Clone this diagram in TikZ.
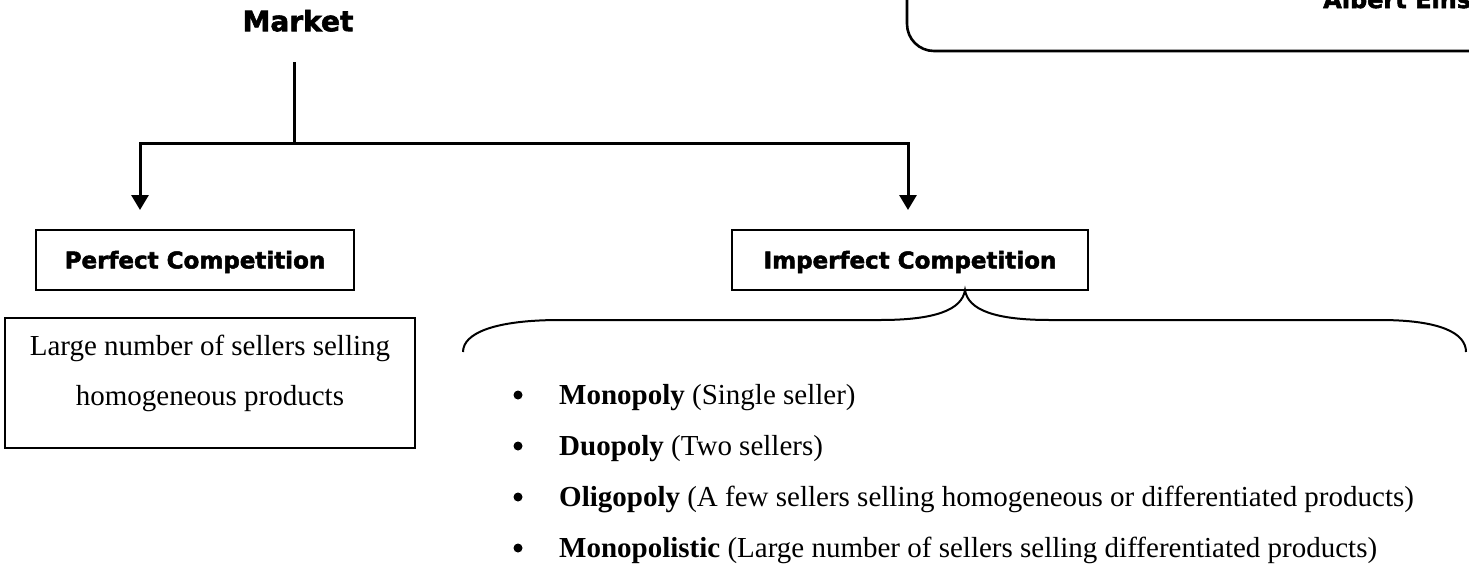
\documentclass[tikz,border=0pt]{standalone}
\usepackage{fontspec}
\setmainfont{Liberation Serif}
\newfontfamily\headfont{DejaVu Sans}[BoldFeatures={FakeBold=2.2}]
\usetikzlibrary{arrows.meta}
\begin{document}
\begin{tikzpicture}[x=1pt,y=-1pt,
  heading/.style={font=\headfont\bfseries\fontsize{23}{27}\selectfont,
                  text height=16.8pt, text depth=0pt},
  headbox/.style={heading, draw, line width=2.6pt, minimum height=60pt, inner sep=0pt},
  link/.style={line width=3pt},
  arrowlink/.style={link, -{Triangle[width=17pt,length=15pt]}},
  brace/.style={line width=2pt},
  item/.style={anchor=base west, inner sep=0pt, font=\fontsize{29}{35}\selectfont},
  dot/.style={circle, fill, inner sep=0pt, minimum size=9pt},
]
\useasboundingbox (0,0) rectangle (1469,571);
\clip (0,0) rectangle (1469,571);

% quotation frame running off the top right
\draw[line width=2.6pt, rounded corners=27pt] (907,-30) -- (907,51) -- (1520,51);
\node[anchor=base west, inner sep=0pt,
      font=\headfont\bfseries\fontsize{24}{28}\selectfont] (quote) at (1323,8) {Albert Eins};

% title and the split into two kinds of market
\node[font=\headfont\bfseries\fontsize{28}{32}\selectfont, text height=20.4pt, text depth=0pt,
      inner sep=0pt] (market) at (298,21) {Market};
\coordinate (stem) at (294,62);
\coordinate (split) at (294,143);
\coordinate (lhead) at (140,210);
\coordinate (rhead) at (908,210);
\draw[link] (stem) -- (split);
\draw[arrowlink] (split) -| (lhead);
\draw[arrowlink] (split) -| (rhead);

% the two categories
\node[headbox, minimum width=318pt] (perfect) at (195,260) {Perfect Competition\hspace{14pt}};
\node[headbox, minimum width=356pt] (imperfect) at (910,260) {Imperfect Competition};

% description of perfect competition
\node[draw, line width=2.6pt, minimum width=410pt, minimum height=130pt, inner sep=0pt,
      align=center, text depth=26pt, font=\fontsize{29}{50}\selectfont]
      (perfdesc) at (210,383) {Large number of sellers selling\\homogeneous products};

% brace under imperfect competition
\coordinate (tip) at (965,290);
\draw[brace] (463,352) .. controls (463,333) and (495,320) .. (560,320)
  -- (880,320) .. controls (935,320) and (962,310) .. (tip)
  .. controls (968,310) and (995,320) .. (1050,320)
  -- (1380,320) .. controls (1440,320) and (1466,333) .. (1466,352);

% forms of imperfect competition
\node[dot] (d1) at (518,395) {};
\node[item] (i1) at (559,404) {\textbf{Monopoly} (Single seller)};
\node[dot] (d2) at (518,446) {};
\node[item] (i2) at (559,455) {\textbf{Duopoly} (Two sellers)};
\node[dot] (d3) at (518,497) {};
\node[item] (i3) at (559,506) {\textbf{Oligopoly} (A few sellers selling homogeneous or differentiated products)};
\node[dot] (d4) at (518,548) {};
\node[item] (i4) at (559,557) {\textbf{Monopolistic} (Large number of sellers selling differentiated products)};
\end{tikzpicture}
\end{document}
